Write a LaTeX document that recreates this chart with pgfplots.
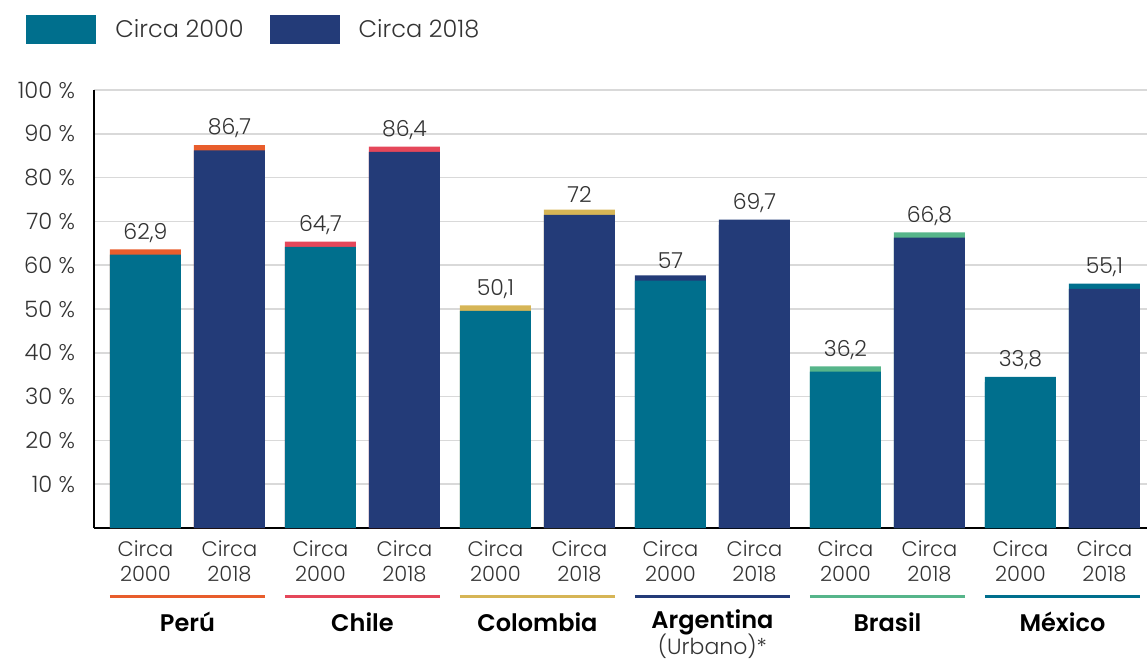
\documentclass[border=0pt]{standalone}
\usepackage{fontspec}
\setmainfont{Poppins}[UprightFont={* Light}, BoldFont={* SemiBold}]
\usepackage{pgfplots}
\pgfplotsset{compat=1.18}
\usetikzlibrary{calc}

\definecolor{c2000}{HTML}{006F8D}
\definecolor{c2018}{HTML}{233B78}
\definecolor{cperu}{HTML}{E85D2C}
\definecolor{cchile}{HTML}{E5475A}
\definecolor{ccol}{HTML}{D6B556}
\definecolor{carg}{HTML}{233B78}
\definecolor{cbra}{HTML}{56B58A}
\definecolor{cmex}{HTML}{006F8D}
\definecolor{txt}{HTML}{333333}
\definecolor{gridc}{HTML}{D9D9D9}

\begin{document}
\begin{tikzpicture}
\begin{axis}[
  name=ax,
  scale only axis,
  width=526.5pt, height=219pt,
  xmin=-0.534, xmax=5.483,
  ymin=0, ymax=100,
  ytick={10,20,...,100},
  yticklabels={10 \%,20 \%,30 \%,40 \%,50 \%,60 \%,70 \%,80 \%,90 \%,100 \%},
  xtick={-0.24,0.24,0.76,1.24,1.76,2.24,2.76,3.24,3.76,4.24,4.76,5.24},
  xticklabels={Circa\\2000,Circa\\2018,Circa\\2000,Circa\\2018,Circa\\2000,Circa\\2018,
               Circa\\2000,Circa\\2018,Circa\\2000,Circa\\2018,Circa\\2000,Circa\\2018},
  xticklabel style={align=center, font=\fontsize{10.5}{12.5}\selectfont, text=txt, yshift=-3pt},
  yticklabel style={font=\fontsize{11.3}{13}\selectfont, text=txt, xshift=-6pt},
  major tick length=0pt,
  axis x line*=bottom, axis y line*=left,
  x axis line style={line width=1pt, black},
  y axis line style={line width=0.6pt, black},
  ymajorgrids, grid style={gridc, line width=0.8pt},
  clip=false,
  nodes near coords,
  point meta=explicit symbolic,
  every node near coord/.append style={font=\fontsize{11}{12}\selectfont, text=txt},
  legend columns=2,
  legend image code/.code={\draw[#1, draw=none] (0pt,-7.25pt) rectangle (35pt,7.25pt);},
  legend style={at={(rel axis cs:0,1)}, anchor=west, xshift=-37pt, yshift=30.25pt,
    draw=none, fill=none, font=\fontsize{12}{14}\selectfont, text=txt,
    /tikz/every odd column/.append style={column sep=7.5pt},
    /tikz/every even column/.append style={column sep=11pt}},
]
% caps in the country colour, drawn first as full bars
\addplot[ybar, bar shift=0pt, bar width=35.5pt, fill=cperu, draw=none, forget plot]
  coordinates {(-0.24,63.6) [62,9] (0.24,87.4) [86,7]};
\addplot[ybar, bar shift=0pt, bar width=35.5pt, fill=cchile, draw=none, forget plot]
  coordinates {(0.76,65.4) [64,7] (1.24,87.1) [86,4]};
\addplot[ybar, bar shift=0pt, bar width=35.5pt, fill=ccol, draw=none, forget plot]
  coordinates {(1.76,50.8) [50,1] (2.24,72.7) [72]};
\addplot[ybar, bar shift=0pt, bar width=35.5pt, fill=carg, draw=none, forget plot]
  coordinates {(2.76,57.7) [57] (3.24,70.4) [69,7]};
\addplot[ybar, bar shift=0pt, bar width=35.5pt, fill=cbra, draw=none, forget plot]
  coordinates {(3.76,36.9) [36,2] (4.24,67.5) [66,8]};
\addplot[ybar, bar shift=0pt, bar width=35.5pt, fill=cmex, draw=none, forget plot]
  coordinates {(4.76,34.5) [33,8] (5.24,55.8) [55,1]};
% base bars
\addplot[ybar, bar shift=0pt, bar width=35.5pt, fill=c2000, draw=none, nodes near coords={}]
  coordinates {(-0.24,62.4) [] (0.76,64.2) [] (1.76,49.6) [] (2.76,56.5) [] (3.76,35.7) [] (4.76,33.3) []};
\addlegendentry{Circa 2000}
\addplot[ybar, bar shift=0pt, bar width=35.5pt, fill=c2018, draw=none, nodes near coords={}]
  coordinates {(0.24,86.2) [] (1.24,85.9) [] (2.24,71.5) [] (3.24,69.2) [] (4.24,66.3) [] (5.24,54.6) []};
\addlegendentry{Circa 2018}

% group underlines and country names
\draw[cperu, line width=1.5pt] (axis cs:-0.443,-15.75) -- (axis cs:0.443,-15.75);
\draw[cchile, line width=1.5pt] (axis cs:0.557,-15.75) -- (axis cs:1.443,-15.75);
\draw[ccol, line width=1.5pt] (axis cs:1.557,-15.75) -- (axis cs:2.443,-15.75);
\draw[carg, line width=1.5pt] (axis cs:2.557,-15.75) -- (axis cs:3.443,-15.75);
\draw[cbra, line width=1.5pt] (axis cs:3.557,-15.75) -- (axis cs:4.443,-15.75);
\draw[cmex, line width=1.5pt] (axis cs:4.557,-15.75) -- (axis cs:5.443,-15.75);
\node[font=\fontsize{12}{14}\selectfont\bfseries] at (axis cs:0,-21.46) {Perú};
\node[font=\fontsize{12}{14}\selectfont\bfseries] at (axis cs:1,-21.46) {Chile};
\node[font=\fontsize{12}{14}\selectfont\bfseries] at (axis cs:2,-21.46) {Colombia};
\node[font=\fontsize{12}{14}\selectfont\bfseries] at (axis cs:3,-21.46) {Argentina};
\node[font=\fontsize{12}{14}\selectfont\bfseries] at (axis cs:4,-21.46) {Brasil};
\node[font=\fontsize{12}{14}\selectfont\bfseries] at (axis cs:5,-21.46) {México};
\node[font=\fontsize{11}{13}\selectfont, text=txt] at (axis cs:3,-26.9) {(Urbano)*};

\coordinate (O) at (rel axis cs:0,0);
\end{axis}
\pgfresetboundingbox
\path[use as bounding box] ($(O)+(-47pt,-65.5pt)$) rectangle ($(O)+(526.5pt,264pt)$);
\end{tikzpicture}
\end{document}
